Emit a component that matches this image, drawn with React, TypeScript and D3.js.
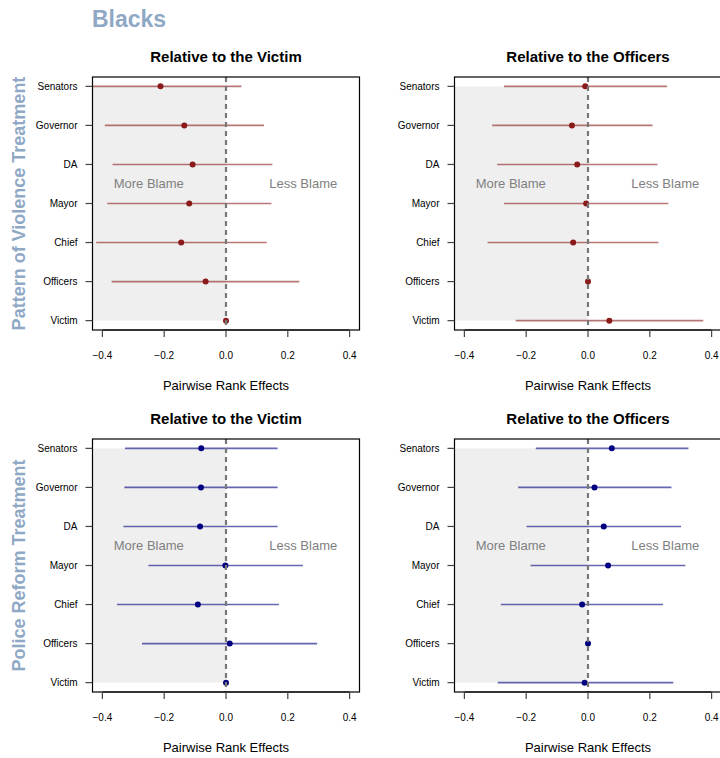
import React from "react";
import * as d3 from "d3";

// Categories from bottom (1) to top (7)
const categories = ["Victim", "Officers", "Chief", "Mayor", "DA", "Governor", "Senators"];
const xTicks = [-0.4, -0.2, 0, 0.2, 0.4];

// Pattern of Violence – relative to the Victim
const pvVictimEst = [0, -0.066, -0.145, -0.119, -0.108, -0.135, -0.212];
const pvVictimLo = [0, -0.370, -0.420, -0.384, -0.367, -0.392, -0.470];
const pvVictimHi = [0, 0.237, 0.132, 0.147, 0.150, 0.123, 0.050];

// Pattern of Violence – relative to the Officers
const pvOfficersEst = [0.069, 0, -0.048, -0.006, -0.035, -0.052, -0.009];
const pvOfficersLo = [-0.234, 0, -0.325, -0.272, -0.294, -0.310, -0.272];
const pvOfficersHi = [0.373, 0, 0.228, 0.260, 0.225, 0.209, 0.256];

// Police Reform – relative to the Victim
const prVictimEst = [0, 0.012, -0.091, -0.002, -0.084, -0.081, -0.080];
const prVictimLo = [0, -0.272, -0.353, -0.251, -0.332, -0.329, -0.327];
const prVictimHi = [0, 0.295, 0.171, 0.249, 0.167, 0.167, 0.167];

// Police Reform – relative to the Officers
const prOfficersEst = [-0.011, 0, -0.019, 0.065, 0.051, 0.021, 0.077];
const prOfficersLo = [-0.292, 0, -0.282, -0.186, -0.199, -0.226, -0.169];
const prOfficersHi = [0.276, 0, 0.243, 0.315, 0.301, 0.270, 0.325];

const FONT = "'Liberation Sans', Arial, Helvetica, sans-serif";
const HEAD = "#8FA8C5";

type PanelProps = {
  id: string;
  left: number;
  top: number;
  title: string;
  est: number[];
  lo: number[];
  hi: number[];
  pointColor: string;
  lineColor: string;
};

const PW = 267;
const PH = 253;

function Panel({ id, left, top, title, est, lo, hi, pointColor, lineColor }: PanelProps) {
  const x = d3.scaleLinear().domain([-0.432, 0.432]).range([left, left + PW]);
  const y = d3.scaleLinear().domain([0.76, 7.24]).range([top + PH, top]);
  const bottom = top + PH;
  const cx = left + PW / 2;
  const clipId = `clip-${id}`;
  return (
    <g>
      <defs>
        <clipPath id={clipId}>
          <rect x={left} y={top} width={PW} height={PH} />
        </clipPath>
      </defs>
      <g clipPath={`url(#${clipId})`}>
        <rect
          x={x(-0.5)}
          y={y(7)}
          width={x(0) - x(-0.5)}
          height={y(1) - y(7)}
          fill="#EFEFEF"
        />
        {categories.map((c, i) =>
          hi[i] !== lo[i] ? (
            <line
              key={`l-${c}`}
              x1={x(lo[i])}
              x2={x(hi[i])}
              y1={y(i + 1)}
              y2={y(i + 1)}
              stroke={lineColor}
              strokeOpacity={0.6}
              strokeWidth={1.6}
            />
          ) : null
        )}
        {categories.map((c, i) => (
          <circle key={`p-${c}`} cx={x(est[i])} cy={y(i + 1)} r={3} fill={pointColor} />
        ))}
        <line
          x1={x(0)}
          x2={x(0)}
          y1={top}
          y2={bottom}
          stroke="#777"
          strokeWidth={2.2}
          strokeDasharray="5,4"
        />
        <text
          x={x(-0.25)}
          y={y(4.5)}
          textAnchor="middle"
          dominantBaseline="central"
          fontFamily={FONT}
          fontSize={13}
          fill="#808080"
        >
          More Blame
        </text>
        <text
          x={x(0.25)}
          y={y(4.5)}
          textAnchor="middle"
          dominantBaseline="central"
          fontFamily={FONT}
          fontSize={13}
          fill="#808080"
        >
          Less Blame
        </text>
      </g>
      <rect x={left} y={top} width={PW} height={PH} fill="none" stroke="#000" strokeWidth={1.2} />
      {/* y axis */}
      {categories.map((c, i) => (
        <g key={`yt-${c}`}>
          <line x1={left - 7} x2={left} y1={y(i + 1)} y2={y(i + 1)} stroke="#444" strokeWidth={1.2} />
          <text
            x={left - 15}
            y={y(i + 1)}
            textAnchor="end"
            dominantBaseline="central"
            fontFamily={FONT}
            fontSize={10}
            fill="#000"
          >
            {c}
          </text>
        </g>
      ))}
      {/* x axis */}
      <line x1={x(-0.4)} x2={x(0.4)} y1={bottom} y2={bottom} stroke="#000" strokeWidth={1.2} />
      {xTicks.map((t) => (
        <g key={`xt-${t}`}>
          <line x1={x(t)} x2={x(t)} y1={bottom} y2={bottom + 7} stroke="#444" strokeWidth={1.2} />
          <text
            x={x(t)}
            y={bottom + 25}
            textAnchor="middle"
            dominantBaseline="central"
            fontFamily={FONT}
            fontSize={10}
            fill="#000"
          >
            {d3.format(".1f")(t).replace("-", "\u2212")}
          </text>
        </g>
      ))}
      <text
        x={cx}
        y={bottom + 55}
        textAnchor="middle"
        dominantBaseline="central"
        fontFamily={FONT}
        fontSize={13}
        fill="#000"
      >
        Pairwise Rank Effects
      </text>
      <text
        x={cx}
        y={top - 15}
        textAnchor="middle"
        fontFamily={FONT}
        fontSize={15}
        fontWeight="bold"
        fill="#000"
      >
        {title}
      </text>
    </g>
  );
}

export default function App() {
  const RED = "#8B1A1A";
  const NAVY = "#000080";
  return (
    <svg
      width={720}
      height={758}
      style={{ position: "absolute", left: 0, top: 0, background: "#fff" }}
    >
      <rect x={0} y={0} width={720} height={758} fill="#fff" />
      <text x={92} y={27} fontFamily={FONT} fontSize={23} fontWeight="bold" fill={HEAD}>
        Blacks
      </text>
      <text
        transform={`translate(19, ${77 + PH / 2}) rotate(-90)`}
        textAnchor="middle"
        dominantBaseline="central"
        fontFamily={FONT}
        fontSize={18}
        fontWeight="bold"
        fill={HEAD}
      >
        Pattern of Violence Treatment
      </text>
      <text
        transform={`translate(19, ${439 + PH / 2}) rotate(-90)`}
        textAnchor="middle"
        dominantBaseline="central"
        fontFamily={FONT}
        fontSize={18}
        fontWeight="bold"
        fill={HEAD}
      >
        Police Reform Treatment
      </text>
      <Panel
        id="tl"
        left={92.5}
        top={77}
        title="Relative to the Victim"
        est={pvVictimEst}
        lo={pvVictimLo}
        hi={pvVictimHi}
        pointColor={RED}
        lineColor={RED}
      />
      <Panel
        id="tr"
        left={454.5}
        top={77}
        title="Relative to the Officers"
        est={pvOfficersEst}
        lo={pvOfficersLo}
        hi={pvOfficersHi}
        pointColor={RED}
        lineColor={RED}
      />
      <Panel
        id="bl"
        left={92.5}
        top={439}
        title="Relative to the Victim"
        est={prVictimEst}
        lo={prVictimLo}
        hi={prVictimHi}
        pointColor={NAVY}
        lineColor={NAVY}
      />
      <Panel
        id="br"
        left={454.5}
        top={439}
        title="Relative to the Officers"
        est={prOfficersEst}
        lo={prOfficersLo}
        hi={prOfficersHi}
        pointColor={NAVY}
        lineColor={NAVY}
      />
    </svg>
  );
}
